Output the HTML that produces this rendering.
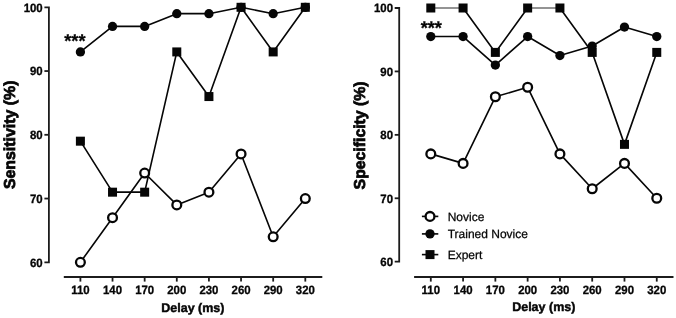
<!DOCTYPE html>
<html><head><meta charset="utf-8"><title>Sensitivity and Specificity by Delay</title>
<style>
html,body{margin:0;padding:0;background:#fff;}
svg{display:block;will-change:transform;}
text{text-rendering:geometricPrecision;font-family:"Liberation Sans",Arial,Helvetica,sans-serif;fill:#060606;}
.t{font-size:12px;font-weight:bold;stroke:#060606;stroke-width:0.3px;}
.d{font-size:12.5px;font-weight:bold;stroke:#060606;stroke-width:0.45px;}
.y{font-size:15.9px;font-weight:bold;stroke:#060606;stroke-width:0.75px;}
.s{font-size:18.2px;font-weight:bold;stroke:#060606;stroke-width:0.3px;}
.l{font-size:12px;stroke:#060606;stroke-width:0.25px;}
</style></head><body>
<svg width="676" height="318" viewBox="0 0 676 318">
<rect width="676" height="318" fill="#fff"/>
<line x1="80.40" y1="141.18" x2="112.53" y2="192.18" stroke="#060606" stroke-width="1.62" stroke-linecap="round"/>
<line x1="112.53" y1="192.18" x2="144.66" y2="192.18" stroke="#060606" stroke-width="1.62" stroke-linecap="round"/>
<line x1="144.66" y1="192.18" x2="176.79" y2="51.92" stroke="#060606" stroke-width="1.62" stroke-linecap="round"/>
<line x1="176.79" y1="51.92" x2="208.92" y2="96.55" stroke="#060606" stroke-width="1.62" stroke-linecap="round"/>
<line x1="208.92" y1="96.55" x2="241.05" y2="7.30" stroke="#060606" stroke-width="1.62" stroke-linecap="round"/>
<line x1="241.05" y1="7.30" x2="273.18" y2="51.92" stroke="#060606" stroke-width="1.62" stroke-linecap="round"/>
<line x1="273.18" y1="51.92" x2="305.31" y2="7.30" stroke="#060606" stroke-width="1.62" stroke-linecap="round"/>
<line x1="80.40" y1="51.92" x2="112.53" y2="26.43" stroke="#060606" stroke-width="1.62" stroke-linecap="round"/>
<line x1="112.53" y1="26.43" x2="144.66" y2="26.43" stroke="#060606" stroke-width="1.62" stroke-linecap="round"/>
<line x1="144.66" y1="26.43" x2="176.79" y2="13.68" stroke="#060606" stroke-width="1.62" stroke-linecap="round"/>
<line x1="176.79" y1="13.68" x2="208.92" y2="13.68" stroke="#060606" stroke-width="1.62" stroke-linecap="round"/>
<line x1="208.92" y1="13.68" x2="241.05" y2="7.30" stroke="#060606" stroke-width="1.62" stroke-linecap="round"/>
<line x1="241.05" y1="7.30" x2="273.18" y2="13.68" stroke="#060606" stroke-width="1.62" stroke-linecap="round"/>
<line x1="273.18" y1="13.68" x2="305.31" y2="7.30" stroke="#060606" stroke-width="1.62" stroke-linecap="round"/>
<line x1="80.40" y1="262.30" x2="112.53" y2="217.68" stroke="#060606" stroke-width="1.62" stroke-linecap="round"/>
<line x1="112.53" y1="217.68" x2="144.66" y2="173.05" stroke="#060606" stroke-width="1.62" stroke-linecap="round"/>
<line x1="144.66" y1="173.05" x2="176.79" y2="204.93" stroke="#060606" stroke-width="1.62" stroke-linecap="round"/>
<line x1="176.79" y1="204.93" x2="208.92" y2="192.18" stroke="#060606" stroke-width="1.62" stroke-linecap="round"/>
<line x1="208.92" y1="192.18" x2="241.05" y2="153.93" stroke="#060606" stroke-width="1.62" stroke-linecap="round"/>
<line x1="241.05" y1="153.93" x2="273.18" y2="236.80" stroke="#060606" stroke-width="1.62" stroke-linecap="round"/>
<line x1="273.18" y1="236.80" x2="305.31" y2="198.55" stroke="#060606" stroke-width="1.62" stroke-linecap="round"/>
<rect x="75.90" y="136.68" width="9" height="9" fill="#060606"/>
<rect x="108.03" y="187.68" width="9" height="9" fill="#060606"/>
<rect x="140.16" y="187.68" width="9" height="9" fill="#060606"/>
<rect x="172.29" y="47.42" width="9" height="9" fill="#060606"/>
<rect x="204.42" y="92.05" width="9" height="9" fill="#060606"/>
<rect x="236.55" y="2.80" width="9" height="9" fill="#060606"/>
<rect x="268.68" y="47.42" width="9" height="9" fill="#060606"/>
<rect x="300.81" y="2.80" width="9" height="9" fill="#060606"/>
<circle cx="80.40" cy="51.92" r="4.65" fill="#060606"/>
<circle cx="112.53" cy="26.43" r="4.65" fill="#060606"/>
<circle cx="144.66" cy="26.43" r="4.65" fill="#060606"/>
<circle cx="176.79" cy="13.68" r="4.65" fill="#060606"/>
<circle cx="208.92" cy="13.68" r="4.65" fill="#060606"/>
<circle cx="241.05" cy="7.30" r="4.65" fill="#060606"/>
<circle cx="273.18" cy="13.68" r="4.65" fill="#060606"/>
<circle cx="305.31" cy="7.30" r="4.65" fill="#060606"/>
<circle cx="80.40" cy="262.30" r="4.4" fill="#fff" stroke="#060606" stroke-width="2.3"/>
<circle cx="112.53" cy="217.68" r="4.4" fill="#fff" stroke="#060606" stroke-width="2.3"/>
<circle cx="144.66" cy="173.05" r="4.4" fill="#fff" stroke="#060606" stroke-width="2.3"/>
<circle cx="176.79" cy="204.93" r="4.4" fill="#fff" stroke="#060606" stroke-width="2.3"/>
<circle cx="208.92" cy="192.18" r="4.4" fill="#fff" stroke="#060606" stroke-width="2.3"/>
<circle cx="241.05" cy="153.93" r="4.4" fill="#fff" stroke="#060606" stroke-width="2.3"/>
<circle cx="273.18" cy="236.80" r="4.4" fill="#fff" stroke="#060606" stroke-width="2.3"/>
<circle cx="305.31" cy="198.55" r="4.4" fill="#fff" stroke="#060606" stroke-width="2.3"/>
<path d="M44.40,7.30H48.90V262.30H44.40" fill="none" stroke="#1c1c1c" stroke-width="1.8" stroke-linejoin="miter"/>
<path d="M44.40,71.05H48.90" stroke="#1c1c1c" stroke-width="1.8"/>
<path d="M44.40,134.80H48.90" stroke="#1c1c1c" stroke-width="1.8"/>
<path d="M44.40,198.55H48.90" stroke="#1c1c1c" stroke-width="1.8"/>
<text transform="translate(42.70,11.60) scale(0.95,1)" text-anchor="end" class="t">100</text>
<text transform="translate(42.70,75.35) scale(0.95,1)" text-anchor="end" class="t">90</text>
<text transform="translate(42.70,139.10) scale(0.95,1)" text-anchor="end" class="t">80</text>
<text transform="translate(42.70,202.85) scale(0.95,1)" text-anchor="end" class="t">70</text>
<text transform="translate(42.70,266.60) scale(0.95,1)" text-anchor="end" class="t">60</text>
<path d="M63.80,277.0H322.30" stroke="#1c1c1c" stroke-width="1.8"/>
<path d="M80.40,277.0v4.6" stroke="#1c1c1c" stroke-width="1.8"/>
<text transform="translate(80.40,294.2) scale(0.95,1)" text-anchor="middle" class="t">110</text>
<path d="M112.53,277.0v4.6" stroke="#1c1c1c" stroke-width="1.8"/>
<text transform="translate(112.53,294.2) scale(0.95,1)" text-anchor="middle" class="t">140</text>
<path d="M144.66,277.0v4.6" stroke="#1c1c1c" stroke-width="1.8"/>
<text transform="translate(144.66,294.2) scale(0.95,1)" text-anchor="middle" class="t">170</text>
<path d="M176.79,277.0v4.6" stroke="#1c1c1c" stroke-width="1.8"/>
<text transform="translate(176.79,294.2) scale(0.95,1)" text-anchor="middle" class="t">200</text>
<path d="M208.92,277.0v4.6" stroke="#1c1c1c" stroke-width="1.8"/>
<text transform="translate(208.92,294.2) scale(0.95,1)" text-anchor="middle" class="t">230</text>
<path d="M241.05,277.0v4.6" stroke="#1c1c1c" stroke-width="1.8"/>
<text transform="translate(241.05,294.2) scale(0.95,1)" text-anchor="middle" class="t">260</text>
<path d="M273.18,277.0v4.6" stroke="#1c1c1c" stroke-width="1.8"/>
<text transform="translate(273.18,294.2) scale(0.95,1)" text-anchor="middle" class="t">290</text>
<path d="M305.31,277.0v4.6" stroke="#1c1c1c" stroke-width="1.8"/>
<text transform="translate(305.31,294.2) scale(0.95,1)" text-anchor="middle" class="t">320</text>
<text x="192.86" y="311.9" text-anchor="middle" class="d">Delay (ms)</text>
<text transform="translate(14.80,134.8) rotate(-90)" text-anchor="middle" class="y" style="font-size:15.9px">Sensitivity (%)</text>
<line x1="430.80" y1="8.00" x2="463.08" y2="8.00" stroke="#2a2a2a" stroke-width="1.05" stroke-linecap="round"/>
<line x1="463.08" y1="8.00" x2="495.36" y2="52.40" stroke="#060606" stroke-width="1.62" stroke-linecap="round"/>
<line x1="495.36" y1="52.40" x2="527.64" y2="8.00" stroke="#060606" stroke-width="1.62" stroke-linecap="round"/>
<line x1="527.64" y1="8.00" x2="559.92" y2="8.00" stroke="#2a2a2a" stroke-width="1.05" stroke-linecap="round"/>
<line x1="559.92" y1="8.00" x2="592.20" y2="52.40" stroke="#060606" stroke-width="1.62" stroke-linecap="round"/>
<line x1="592.20" y1="52.40" x2="624.48" y2="144.36" stroke="#060606" stroke-width="1.62" stroke-linecap="round"/>
<line x1="624.48" y1="144.36" x2="656.76" y2="52.40" stroke="#060606" stroke-width="1.62" stroke-linecap="round"/>
<line x1="430.80" y1="36.54" x2="463.08" y2="36.54" stroke="#060606" stroke-width="1.62" stroke-linecap="round"/>
<line x1="463.08" y1="36.54" x2="495.36" y2="65.08" stroke="#060606" stroke-width="1.62" stroke-linecap="round"/>
<line x1="495.36" y1="65.08" x2="527.64" y2="36.54" stroke="#060606" stroke-width="1.62" stroke-linecap="round"/>
<line x1="527.64" y1="36.54" x2="559.92" y2="55.57" stroke="#060606" stroke-width="1.62" stroke-linecap="round"/>
<line x1="559.92" y1="55.57" x2="592.20" y2="46.05" stroke="#060606" stroke-width="1.62" stroke-linecap="round"/>
<line x1="592.20" y1="46.05" x2="624.48" y2="27.03" stroke="#060606" stroke-width="1.62" stroke-linecap="round"/>
<line x1="624.48" y1="27.03" x2="656.76" y2="36.54" stroke="#060606" stroke-width="1.62" stroke-linecap="round"/>
<line x1="430.80" y1="153.88" x2="463.08" y2="163.39" stroke="#060606" stroke-width="1.62" stroke-linecap="round"/>
<line x1="463.08" y1="163.39" x2="495.36" y2="96.79" stroke="#060606" stroke-width="1.62" stroke-linecap="round"/>
<line x1="495.36" y1="96.79" x2="527.64" y2="87.28" stroke="#060606" stroke-width="1.62" stroke-linecap="round"/>
<line x1="527.64" y1="87.28" x2="559.92" y2="153.88" stroke="#060606" stroke-width="1.62" stroke-linecap="round"/>
<line x1="559.92" y1="153.88" x2="592.20" y2="188.76" stroke="#060606" stroke-width="1.62" stroke-linecap="round"/>
<line x1="592.20" y1="188.76" x2="624.48" y2="163.39" stroke="#060606" stroke-width="1.62" stroke-linecap="round"/>
<line x1="624.48" y1="163.39" x2="656.76" y2="198.28" stroke="#060606" stroke-width="1.62" stroke-linecap="round"/>
<rect x="426.30" y="3.50" width="9" height="9" fill="#060606"/>
<rect x="458.58" y="3.50" width="9" height="9" fill="#060606"/>
<rect x="490.86" y="47.90" width="9" height="9" fill="#060606"/>
<rect x="523.14" y="3.50" width="9" height="9" fill="#060606"/>
<rect x="555.42" y="3.50" width="9" height="9" fill="#060606"/>
<rect x="587.70" y="47.90" width="9" height="9" fill="#060606"/>
<rect x="619.98" y="139.86" width="9" height="9" fill="#060606"/>
<rect x="652.26" y="47.90" width="9" height="9" fill="#060606"/>
<circle cx="430.80" cy="36.54" r="4.65" fill="#060606"/>
<circle cx="463.08" cy="36.54" r="4.65" fill="#060606"/>
<circle cx="495.36" cy="65.08" r="4.65" fill="#060606"/>
<circle cx="527.64" cy="36.54" r="4.65" fill="#060606"/>
<circle cx="559.92" cy="55.57" r="4.65" fill="#060606"/>
<circle cx="592.20" cy="46.05" r="4.65" fill="#060606"/>
<circle cx="624.48" cy="27.03" r="4.65" fill="#060606"/>
<circle cx="656.76" cy="36.54" r="4.65" fill="#060606"/>
<circle cx="430.80" cy="153.88" r="4.4" fill="#fff" stroke="#060606" stroke-width="2.3"/>
<circle cx="463.08" cy="163.39" r="4.4" fill="#fff" stroke="#060606" stroke-width="2.3"/>
<circle cx="495.36" cy="96.79" r="4.4" fill="#fff" stroke="#060606" stroke-width="2.3"/>
<circle cx="527.64" cy="87.28" r="4.4" fill="#fff" stroke="#060606" stroke-width="2.3"/>
<circle cx="559.92" cy="153.88" r="4.4" fill="#fff" stroke="#060606" stroke-width="2.3"/>
<circle cx="592.20" cy="188.76" r="4.4" fill="#fff" stroke="#060606" stroke-width="2.3"/>
<circle cx="624.48" cy="163.39" r="4.4" fill="#fff" stroke="#060606" stroke-width="2.3"/>
<circle cx="656.76" cy="198.28" r="4.4" fill="#fff" stroke="#060606" stroke-width="2.3"/>
<path d="M394.70,8.00H399.20V261.70H394.70" fill="none" stroke="#1c1c1c" stroke-width="1.8" stroke-linejoin="miter"/>
<path d="M394.70,71.42H399.20" stroke="#1c1c1c" stroke-width="1.8"/>
<path d="M394.70,134.85H399.20" stroke="#1c1c1c" stroke-width="1.8"/>
<path d="M394.70,198.28H399.20" stroke="#1c1c1c" stroke-width="1.8"/>
<text transform="translate(393.00,12.40) scale(0.95,1)" text-anchor="end" class="t">100</text>
<text transform="translate(393.00,75.83) scale(0.95,1)" text-anchor="end" class="t">90</text>
<text transform="translate(393.00,139.25) scale(0.95,1)" text-anchor="end" class="t">80</text>
<text transform="translate(393.00,202.68) scale(0.95,1)" text-anchor="end" class="t">70</text>
<text transform="translate(393.00,266.10) scale(0.95,1)" text-anchor="end" class="t">60</text>
<path d="M414.10,277.0H673.50" stroke="#1c1c1c" stroke-width="1.8"/>
<path d="M430.80,277.0v4.6" stroke="#1c1c1c" stroke-width="1.8"/>
<text transform="translate(430.80,294.2) scale(0.95,1)" text-anchor="middle" class="t">110</text>
<path d="M463.08,277.0v4.6" stroke="#1c1c1c" stroke-width="1.8"/>
<text transform="translate(463.08,294.2) scale(0.95,1)" text-anchor="middle" class="t">140</text>
<path d="M495.36,277.0v4.6" stroke="#1c1c1c" stroke-width="1.8"/>
<text transform="translate(495.36,294.2) scale(0.95,1)" text-anchor="middle" class="t">170</text>
<path d="M527.64,277.0v4.6" stroke="#1c1c1c" stroke-width="1.8"/>
<text transform="translate(527.64,294.2) scale(0.95,1)" text-anchor="middle" class="t">200</text>
<path d="M559.92,277.0v4.6" stroke="#1c1c1c" stroke-width="1.8"/>
<text transform="translate(559.92,294.2) scale(0.95,1)" text-anchor="middle" class="t">230</text>
<path d="M592.20,277.0v4.6" stroke="#1c1c1c" stroke-width="1.8"/>
<text transform="translate(592.20,294.2) scale(0.95,1)" text-anchor="middle" class="t">260</text>
<path d="M624.48,277.0v4.6" stroke="#1c1c1c" stroke-width="1.8"/>
<text transform="translate(624.48,294.2) scale(0.95,1)" text-anchor="middle" class="t">290</text>
<path d="M656.76,277.0v4.6" stroke="#1c1c1c" stroke-width="1.8"/>
<text transform="translate(656.76,294.2) scale(0.95,1)" text-anchor="middle" class="t">320</text>
<text x="543.78" y="310.8" text-anchor="middle" class="d">Delay (ms)</text>
<text transform="translate(365.10,135.4) rotate(-90)" text-anchor="middle" class="y" style="font-size:15.8px">Specificity (%)</text>
<text x="64.3" y="47.4" class="s">***</text>
<text x="420.7" y="33.7" class="s">***</text>
<path d="M421.9,216.4H438.3" stroke="#060606" stroke-width="1.62"/>
<circle cx="430.0" cy="216.4" r="4.4" fill="#fff" stroke="#060606" stroke-width="2.3"/>
<text x="447.7" y="220.7" class="l">Novice</text>
<path d="M421.9,233.9H438.3" stroke="#060606" stroke-width="1.62"/>
<circle cx="430.0" cy="233.9" r="4.65" fill="#060606"/>
<text x="447.7" y="237.6" class="l">Trained Novice</text>
<path d="M421.9,254.6H438.3" stroke="#060606" stroke-width="1.62"/>
<rect x="425.5" y="250.1" width="9" height="9" fill="#060606"/>
<text x="447.7" y="258.7" class="l">Expert</text>
</svg>
</body></html>
